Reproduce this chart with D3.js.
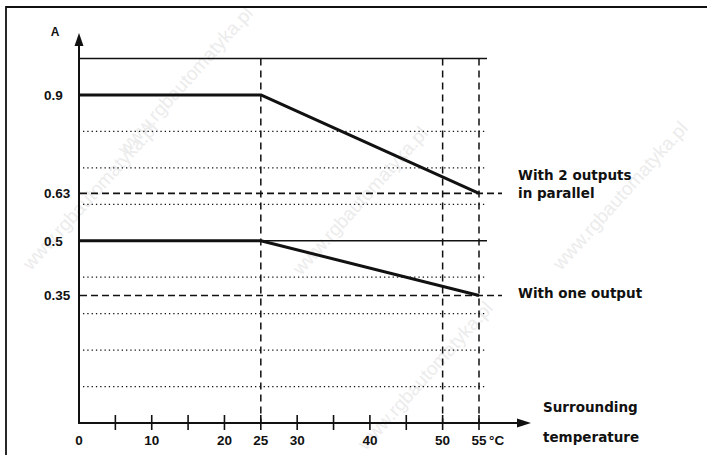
<!DOCTYPE html>
<html>
<head>
<meta charset="utf-8">
<script src="https://cdn.jsdelivr.net/npm/d3@7"></script>
<style>
  body { margin: 0; background: #fff; }
  svg { display: block; }
</style>
</head>
<body>
<div id="chart"></div>
<script>
// Output current vs surrounding temperature
const temps = [0, 25, 55];
const twoOutputs = [0.9, 0.9, 0.63];
const oneOutput = [0.5, 0.5, 0.35];

// Grid levels (A) and marker temperatures (°C)
const dottedLevels = [0.8, 0.7, 0.6, 0.4, 0.3, 0.2, 0.1];
const solidLevels = [1.0, 0.5];
const dashedLevels = [0.63, 0.35];
const markerTemps = [25, 50, 55];
const tickTemps = [5, 10, 15, 20, 25, 30, 35, 40, 45, 50, 55];
const xTickLabels = [0, 10, 20, 25, 30, 40, 50, 55];
const yTickLabels = [0.9, 0.63, 0.5, 0.35];

const width = 707;
const height = 455;
const ink = '#111';

const svg = d3.select('#chart')
    .append('svg')
    .attr('width', width)
    .attr('height', height);

// Watermarks (faint)
const marks = [[95, 200], [190, 85], [365, 205], [430, 380], [625, 200]];
svg.selectAll('text.wm')
    .data(marks)
    .join('text')
    .attr('class', 'wm')
    .attr('transform', d => `translate(${d[0]},${d[1]}) rotate(-48)`)
    .attr('text-anchor', 'middle')
    .attr('font-family', 'Liberation Sans, Arial, sans-serif')
    .attr('font-size', 19)
    .attr('fill', '#ececec')
    .text('www.rgbautomatyka.pl');

// Frame
svg.append('path')
    .attr('d', 'M6,455V7H707')
    .attr('fill', 'none')
    .attr('stroke', ink)
    .attr('stroke-width', 1.8);

const x = d3.scaleLinear().domain([0, 55]).range([79, 479]);
const y = d3.scaleLinear().domain([0, 1]).range([423, 58.5]);

// Horizontal grid
svg.selectAll('line.dot')
    .data(dottedLevels)
    .join('line')
    .attr('x1', x(0) + 4).attr('x2', x(55) + 7)
    .attr('y1', d => y(d)).attr('y2', d => y(d))
    .attr('stroke', ink)
    .attr('stroke-width', 1.3)
    .attr('stroke-dasharray', '1.3,3');

svg.selectAll('line.solid')
    .data(solidLevels)
    .join('line')
    .attr('x1', x(0)).attr('x2', x(55) + 8)
    .attr('y1', d => y(d)).attr('y2', d => y(d))
    .attr('stroke', ink)
    .attr('stroke-width', 1.6);

svg.selectAll('line.dash')
    .data(dashedLevels)
    .join('line')
    .attr('x1', x(0) + 1).attr('x2', x(55) + 23)
    .attr('y1', d => y(d)).attr('y2', d => y(d))
    .attr('stroke', ink)
    .attr('stroke-width', 1.6)
    .attr('stroke-dasharray', '7,4');

// Vertical markers
svg.selectAll('line.vmark')
    .data(markerTemps)
    .join('line')
    .attr('x1', d => x(d)).attr('x2', d => x(d))
    .attr('y1', y(1)).attr('y2', y(0))
    .attr('stroke', ink)
    .attr('stroke-width', 1.5)
    .attr('stroke-dasharray', '7,5');

// Curves
const line = d3.line()
    .x((d, i) => x(temps[i]))
    .y(d => y(d));

[twoOutputs, oneOutput].forEach(series => {
    svg.append('path')
        .attr('d', line(series))
        .attr('fill', 'none')
        .attr('stroke', ink)
        .attr('stroke-width', 3)
        .attr('stroke-linejoin', 'round');
});

// Axes with arrows
svg.append('line')
    .attr('x1', x(0)).attr('x2', x(0))
    .attr('y1', y(0) + 1).attr('y2', 44)
    .attr('stroke', ink).attr('stroke-width', 2);
svg.append('path')
    .attr('d', `M${x(0)},33L${x(0) - 4.5},46L${x(0) + 4.5},46Z`)
    .attr('fill', ink);

svg.append('line')
    .attr('x1', x(0) - 1).attr('x2', 519)
    .attr('y1', y(0)).attr('y2', y(0))
    .attr('stroke', ink).attr('stroke-width', 2);
svg.append('path')
    .attr('d', `M531,${y(0)}L517,${y(0) - 4.5}L517,${y(0) + 4.5}Z`)
    .attr('fill', ink);

svg.selectAll('line.tick')
    .data(tickTemps)
    .join('line')
    .attr('x1', d => x(d)).attr('x2', d => x(d))
    .attr('y1', y(0) - 8).attr('y2', y(0) + 7)
    .attr('stroke', ink)
    .attr('stroke-width', 1.6);

// Tick labels
const numFont = 'Liberation Sans, Arial, sans-serif';
svg.selectAll('text.xlab')
    .data(xTickLabels)
    .join('text')
    .attr('x', d => x(d))
    .attr('y', 445)
    .attr('text-anchor', 'middle')
    .attr('font-family', numFont)
    .attr('font-weight', 'bold')
    .attr('font-size', 13.5)
    .attr('fill', ink)
    .text(d => d);

svg.append('text')
    .attr('x', x(55) + 10).attr('y', 445)
    .attr('font-family', numFont)
    .attr('font-weight', 'bold')
    .attr('font-size', 13.5)
    .attr('fill', ink)
    .text('°C');

svg.selectAll('text.ylab')
    .data(yTickLabels)
    .join('text')
    .attr('x', 44)
    .attr('y', d => y(d))
    .attr('dy', '0.36em')
    .attr('font-family', numFont)
    .attr('font-weight', 'bold')
    .attr('font-size', 13.5)
    .attr('fill', ink)
    .text(d => d);

svg.append('text')
    .attr('x', 55).attr('y', 36)
    .attr('text-anchor', 'middle')
    .attr('font-family', numFont)
    .attr('font-weight', 'bold')
    .attr('font-size', 12)
    .attr('fill', ink)
    .text('A');

// Curve and axis captions
const capFont = 'DejaVu Sans, Verdana, sans-serif';
const captions = [
    { t: 'With 2 outputs', x: 518, y: 180 },
    { t: 'in parallel', x: 518, y: 198 },
    { t: 'With one output', x: 518, y: 298 },
    { t: 'Surrounding', x: 543, y: 412 },
    { t: 'temperature', x: 543, y: 442 }
];
svg.selectAll('text.cap')
    .data(captions)
    .join('text')
    .attr('x', d => d.x)
    .attr('y', d => d.y)
    .attr('font-family', capFont)
    .attr('font-weight', 'bold')
    .attr('font-size', 13.5)
    .attr('fill', ink)
    .text(d => d.t);
</script>
</body>
</html>
